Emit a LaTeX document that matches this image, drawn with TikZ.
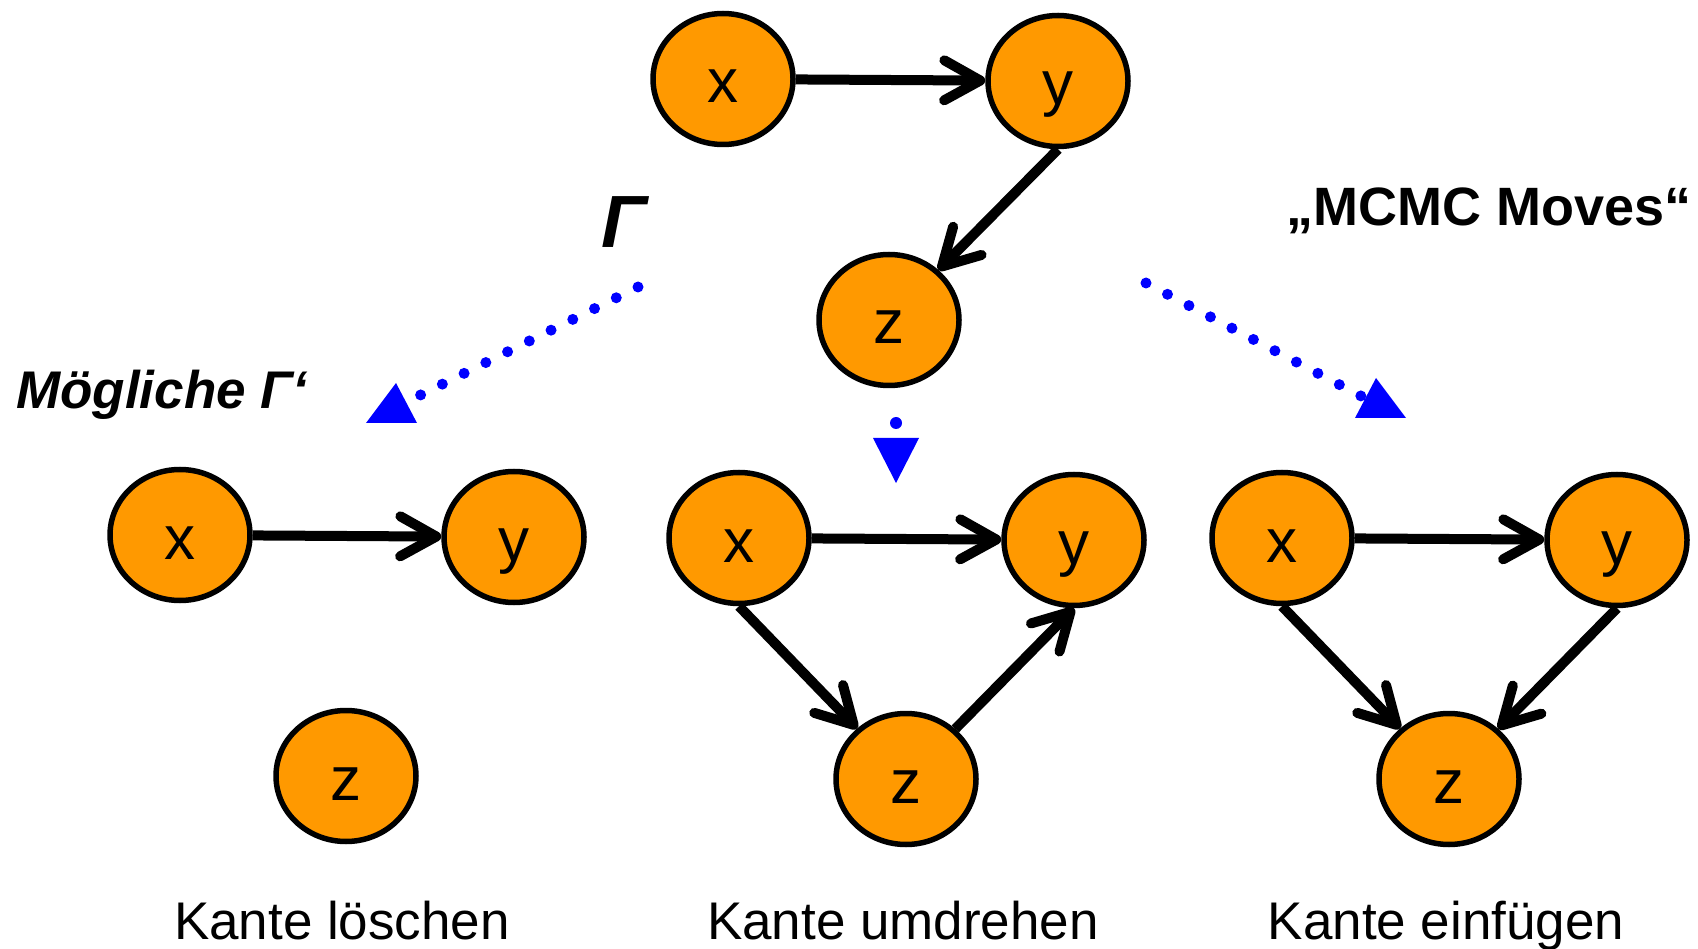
\documentclass[tikz,border=0pt]{standalone}
\usepackage{fontspec}
\setmainfont{Liberation Sans}
\usetikzlibrary{shapes.geometric,arrows.meta}
\definecolor{nodeorange}{RGB}{255,153,0}
\definecolor{moveblue}{RGB}{0,0,255}
\begin{document}
\begin{tikzpicture}[x=1pt,y=-1pt,
  var/.style={ellipse,draw=black,line width=5.5pt,fill=nodeorange,
    minimum width=140pt,minimum height=131pt,inner sep=0pt,
    font=\fontsize{62}{70}\selectfont,text height=48pt,text depth=0pt},
  edge/.style={line width=10pt,-{Straight Barb[length=36pt,width=40pt,round]}},
  move/.style={moveblue,line width=11pt,line cap=round,dash pattern=on 0pt off 24.27pt},
  tri/.style={fill=moveblue,draw=none},
  caption/.style={font=\fontsize{53}{60}\selectfont,anchor=base,inner sep=0pt}]
\useasboundingbox (0,0) rectangle (1698,949);
\fill[white] (0,0) rectangle (1698,949);
% top graph
\node[var] (tx) at (723,79) {x};
\node[var] (ty) at (1058,81) {y};
\node[var] (tz) at (889,320) {z};
\draw[edge] (tx) -- (ty);
\draw[edge] (ty.south) -- (tz);
% bottom left
\node[var] (lx) at (180,535) {x};
\node[var] (ly) at (514,537) {y};
\node[var] (lz) at (346,776) {z};
\draw[edge] (lx) -- (ly);
% bottom middle
\node[var] (mx) at (739,538) {x};
\node[var] (my) at (1074,540) {y};
\node[var] (mz) at (906,779) {z};
\draw[edge] (mx) -- (my);
\draw[edge] (mx.south) -- (mz);
\draw[edge] (mz) -- (my.south);
% bottom right
\node[var] (rx) at (1282,538) {x};
\node[var] (ry) at (1617,540) {y};
\node[var] (rz) at (1449,779) {z};
\draw[edge] (rx) -- (ry);
\draw[edge] (rx.south) -- (rz);
\draw[edge] (ry.south) -- (rz);
% moves
\coordinate (gl1) at (638,287);
\coordinate (gl2) at (420.5,395);
\draw[move] (gl1) -- (gl2);
\fill[tri] (366,423) -- (417,423) -- (396,383) -- cycle;
\coordinate (gr1) at (1146,283);
\coordinate (gr2) at (1361,396);
\draw[move] (gr1) -- (gr2);
\fill[tri] (1355,418) -- (1406,418) -- (1376,378) -- cycle;
\coordinate (gm) at (896,423);
\fill[moveblue] (gm) circle[radius=6pt];
\fill[tri] (873,438) -- (919,438) -- (896,483) -- cycle;
% labels
\node[font=\fontsize{74}{80}\selectfont\bfseries\itshape,anchor=base,inner sep=0pt] (gamma) at (624,248) {Γ};
\node[font=\fontsize{53}{60}\selectfont\bfseries\itshape,anchor=base west,inner sep=0pt] (moegl) at (16,409) {Mögliche Γ‘};
\node[font=\fontsize{54}{60}\selectfont\bfseries,anchor=base east,inner sep=0pt] (mcmc) at (1692,226) {„MCMC Moves“};
\node[caption] (c1) at (342,939) {Kante löschen};
\node[caption] (c2) at (903,939) {Kante umdrehen};
\node[caption] (c3) at (1446,939) {Kante einfügen};
\end{tikzpicture}
\end{document}
